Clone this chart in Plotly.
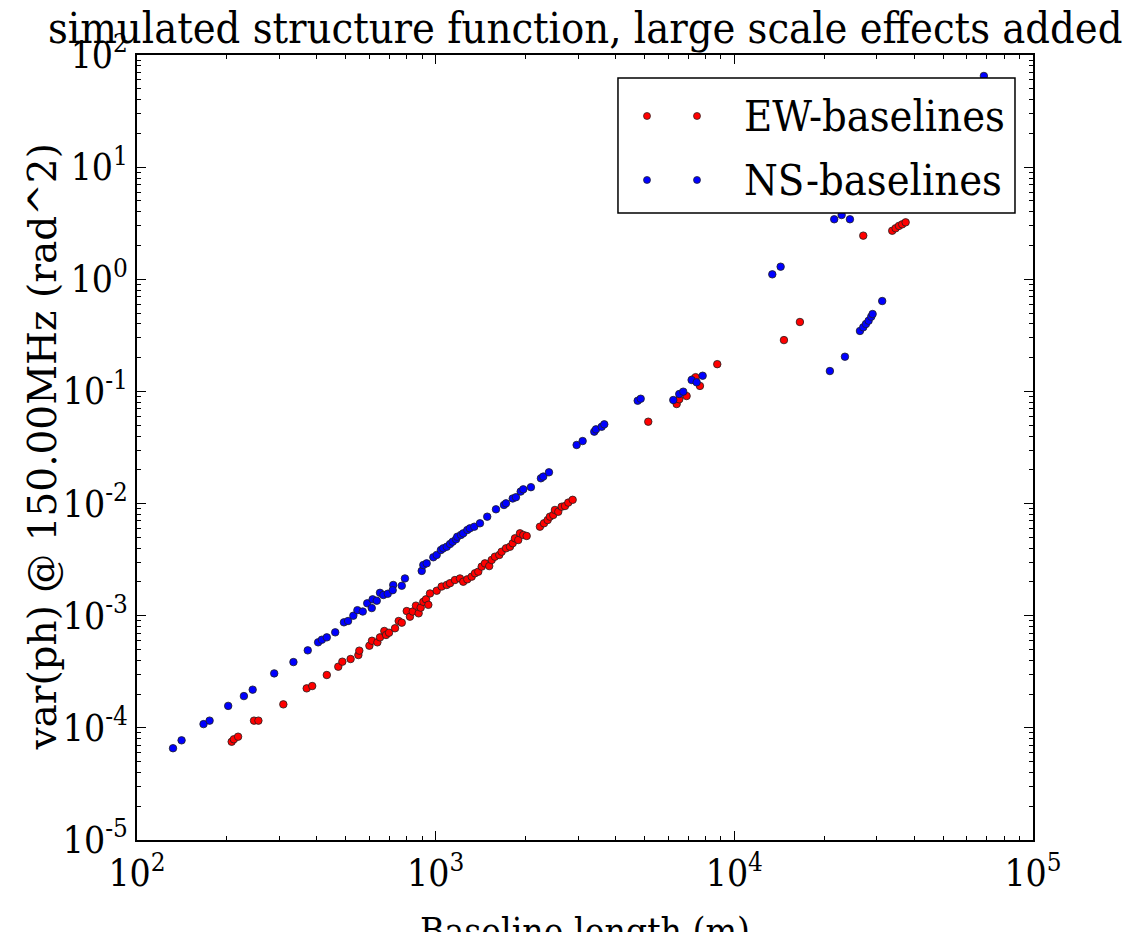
import plotly.graph_objects as go

# ---------------- data ----------------
ns_len = [132, 141, 167, 175, 202, 228, 244, 288, 334, 373,
          404, 416, 432, 461, 493, 509, 530, 547, 570, 590,
          611, 615, 635, 651, 668, 691, 721, 718, 770, 789,
          898, 909, 933, 982, 1008, 1041, 1060, 1089, 1117, 1140,
          1170, 1181, 1215, 1237, 1276, 1302, 1347, 1407, 1488, 1592,
          1693, 1720, 1811, 1857, 1926, 1965, 2084, 2251, 2292, 2395,
          2965, 3105, 3396, 3441, 3596, 3669, 4747, 4858, 6246, 6540,
          6744, 7194, 7478, 7833, 13400, 14290, 21600, 22870, 24380, 20890,
          23460, 26340, 27020, 27580, 28160, 28730, 29040, 31270, 68470]
ns_var = [6.58e-5, 7.74e-5, 1.08e-4, 1.16e-4, 1.57e-4, 1.92e-4, 2.19e-4, 3.06e-4, 3.86e-4, 4.91e-4,
          5.79e-4, 6.11e-4, 6.41e-4, 7.11e-4, 8.73e-4, 8.97e-4, 1.00e-3, 1.12e-3, 1.09e-3, 1.29e-3,
          1.17e-3, 1.40e-3, 1.36e-3, 1.60e-3, 1.53e-3, 1.57e-3, 1.88e-3, 1.69e-3, 1.85e-3, 2.15e-3,
          2.51e-3, 2.83e-3, 2.93e-3, 3.32e-3, 3.48e-3, 3.85e-3, 3.99e-3, 4.12e-3, 4.36e-3, 4.57e-3,
          4.80e-3, 5.06e-3, 5.25e-3, 5.43e-3, 5.81e-3, 6.01e-3, 6.22e-3, 6.67e-3, 7.64e-3, 8.89e-3,
          9.71e-3, 1.005e-2, 1.11e-2, 1.14e-2, 1.28e-2, 1.34e-2, 1.40e-2, 1.68e-2, 1.74e-2, 1.90e-2,
          3.33e-2, 3.61e-2, 4.38e-2, 4.59e-2, 4.84e-2, 5.09e-2, 8.26e-2, 8.61e-2, 8.38e-2, 9.48e-2,
          9.95e-2, 0.1265, 0.1206, 0.138, 1.107, 1.295, 3.43, 3.74, 3.43, 0.152,
          0.204, 0.346, 0.373, 0.399, 0.427, 0.464, 0.490, 0.640, 65.0]

ew_len = [207.5, 211, 218, 246.5, 255, 309, 370, 386, 432, 472,
          487, 519, 551, 555, 600, 612, 638, 651, 673, 682,
          698, 731, 752, 770, 800, 820, 838, 859, 877, 891,
          909, 928, 945, 957, 1008, 1047, 1089, 1117, 1160, 1206,
          1237, 1276, 1320, 1354, 1389, 1426, 1462, 1511, 1540, 1579,
          1633, 1663, 1720, 1773, 1811, 1843, 1890, 1915, 1965, 2017,
          2234, 2305, 2371, 2413, 2475, 2508, 2573, 2641, 2710, 2780,
          2875, 5150, 6411, 6540, 6921, 7252, 7421, 7671, 8767, 14660,
          16580, 27020, 33780, 34670, 35560, 36480, 37460]
ew_var = [7.52e-5, 7.91e-5, 8.34e-5, 1.16e-4, 1.16e-4, 1.62e-4, 2.25e-4, 2.36e-4, 2.96e-4, 3.51e-4,
          3.89e-4, 4.11e-4, 4.46e-4, 4.88e-4, 5.40e-4, 5.98e-4, 5.79e-4, 6.41e-4, 7.31e-4, 6.73e-4,
          7.05e-4, 7.73e-4, 8.97e-4, 8.67e-4, 1.10e-3, 9.80e-4, 1.09e-3, 1.23e-3, 1.05e-3, 1.18e-3,
          1.33e-3, 1.40e-3, 1.25e-3, 1.58e-3, 1.67e-3, 1.82e-3, 1.88e-3, 1.95e-3, 2.08e-3, 2.15e-3,
          2.01e-3, 2.11e-3, 2.23e-3, 2.39e-3, 2.47e-3, 2.74e-3, 2.93e-3, 2.77e-3, 3.14e-3, 3.36e-3,
          3.48e-3, 3.72e-3, 3.99e-3, 4.12e-3, 4.43e-3, 4.90e-3, 4.73e-3, 5.43e-3, 5.25e-3, 5.14e-3,
          6.22e-3, 6.67e-3, 7.13e-3, 7.64e-3, 7.91e-3, 8.77e-3, 8.45e-3, 9.37e-3, 9.51e-3, 1.02e-2,
          1.08e-2, 5.37e-2, 7.72e-2, 8.51e-2, 9.10e-2, 0.128, 0.134, 0.112, 0.175, 0.287,
          0.416, 2.45, 2.71, 2.85, 2.99, 3.09, 3.22]

series_names = ["EW-baselines", "NS-baselines"]
series_colors = ["#ff0000", "#0000ff"]

x_tickvals = [1e2, 1e3, 1e4, 1e5]
x_ticktext = ["10<sup>2</sup>", "10<sup>3</sup>", "10<sup>4</sup>", "10<sup>5</sup>"]
y_tickvals = [1e-5, 1e-4, 1e-3, 1e-2, 1e-1, 1e0, 1e1, 1e2]
y_ticktext = ["10<sup>-5</sup>", "10<sup>-4</sup>", "10<sup>-3</sup>", "10<sup>-2</sup>",
              "10<sup>-1</sup>", "10<sup>0</sup>", "10<sup>1</sup>", "10<sup>2</sup>"]

title_text = "simulated structure function, large scale effects added"
x_title = "Baseline length (m)"
y_title = "var(ph) @ 150.00MHz (rad^2)"

# ---------------- figure ----------------
FONT_H = "DejaVu Serif Condensed, DejaVu Serif, serif"
FONT_V = "DejaVu Serif, serif"

fig = go.Figure()
for name, xs, ys, col in [(series_names[0], ew_len, ew_var, series_colors[0]),
                          (series_names[1], ns_len, ns_var, series_colors[1])]:
    fig.add_trace(go.Scatter(
        x=xs, y=ys, mode="markers", name=name, showlegend=False,
        marker=dict(size=7.5, color=col, line=dict(color="#202020", width=0.8)),
    ))

axis_common = dict(
    type="log", showgrid=False, zeroline=False,
    showline=True, linecolor="black", linewidth=1.5, mirror="allticks",
    ticks="inside", ticklen=9, tickwidth=1, tickcolor="black",
    minor=dict(ticks="inside", ticklen=4.5, tickwidth=1, tickcolor="black",
               showgrid=False, dtick="D1"),
    tickfont=dict(family=FONT_H, size=37, color="black"),
)

fig.update_layout(
    width=1132, height=932,
    paper_bgcolor="white", plot_bgcolor="white",
    margin=dict(l=137, r=99, t=55, b=92),
    title=dict(text=title_text, x=0.517, xanchor="center",
               y=1 - 28 / 932, yanchor="middle", yref="container",
               font=dict(family=FONT_H, size=43, color="black")),
    xaxis=dict(range=[2, 5], tickvals=x_tickvals, ticktext=x_ticktext, **axis_common),
    yaxis=dict(range=[-5, 2], tickvals=y_tickvals, ticktext=y_ticktext, **axis_common),
    showlegend=False,
)

# axis titles
fig.add_annotation(text=x_title, xref="paper", yref="paper", x=0.5, y=-0.087,
                   xanchor="center", yanchor="top", showarrow=False,
                   font=dict(family=FONT_H, size=37, color="black"))
fig.add_annotation(text=y_title, xref="paper", yref="paper", x=-0.106, y=0.5,
                   xanchor="center", yanchor="middle", textangle=-90, showarrow=False,
                   font=dict(family=FONT_V, size=39, color="black"))

# legend box (drawn manually to get matplotlib-style two-point glyphs)
lx0, lx1, ly0, ly1 = 0.5368, 0.9799, 0.7987, 0.9707
fig.add_shape(type="rect", xref="paper", yref="paper", x0=lx0, x1=lx1, y0=ly0, y1=ly1,
              fillcolor="white", line=dict(color="black", width=1.5), layer="above")
row_y = [0.9223, 0.8408]
for ry, col, name in zip(row_y, series_colors, series_names):
    for gx in (0.5692, 0.6250):
        fig.add_shape(type="circle", xref="paper", yref="paper",
                      xsizemode="pixel", ysizemode="pixel", xanchor=gx, yanchor=ry,
                      x0=-3.5, x1=3.5, y0=-3.5, y1=3.5,
                      fillcolor=col, line=dict(color="#202020", width=0.7), layer="above")
    fig.add_annotation(text=name, xref="paper", yref="paper", x=0.6752, y=ry,
                       xanchor="left", yanchor="middle", showarrow=False,
                       font=dict(family=FONT_H, size=43, color="black"))

fig.write_html("out.html")
